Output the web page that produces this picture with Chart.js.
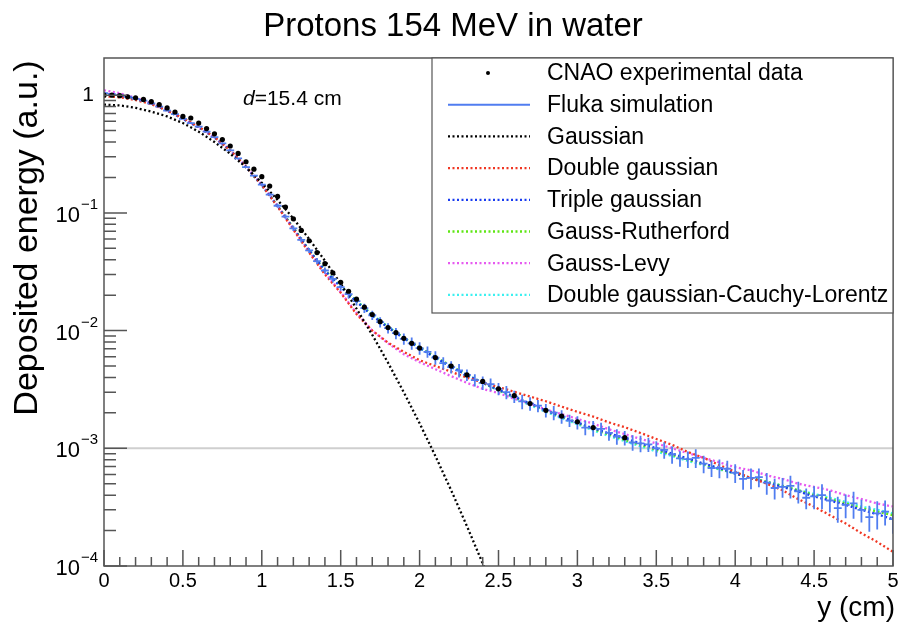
<!DOCTYPE html>
<html>
<head>
<meta charset="utf-8">
<title>Protons 154 MeV in water</title>
<script src="https://cdn.jsdelivr.net/npm/chart.js@4.4.1/dist/chart.umd.min.js"></script>
<style>
  html, body { margin: 0; padding: 0; background: #fff; }
  #wrap { width: 903px; height: 626px; }
</style>
</head>
<body>
<div id="wrap"><canvas id="chartCanvas" width="903" height="626"></canvas></div>
<script>
// ---- data ----
const seriesNames = ["CNAO experimental data", "Fluka simulation", "Gaussian", "Double gaussian",
  "Triple gaussian", "Gauss-Rutherford", "Gauss-Levy", "Double gaussian-Cauchy-Lorentz"];

// CNAO measurements
const cnaoX = [0, 0.05, 0.1, 0.15, 0.2, 0.25, 0.3, 0.35, 0.4, 0.45,
  0.5, 0.55, 0.6, 0.65, 0.7, 0.75, 0.8, 0.85, 0.9, 0.95,
  1.0, 1.05, 1.1, 1.15, 1.2, 1.25, 1.3, 1.35, 1.4, 1.45,
  1.5, 1.55, 1.6, 1.65, 1.7, 1.75, 1.8, 1.85, 1.9, 1.95,
  2.0, 2.1, 2.2, 2.3, 2.4, 2.5, 2.6, 2.7, 2.8, 2.9, 3.0, 3.1, 3.3];
const cnaoY = [1.00, 1.00, 0.99, 0.97, 0.95, 0.92, 0.88, 0.83, 0.78, 0.72,
  0.66, 0.64, 0.58, 0.52, 0.47, 0.42, 0.37, 0.32, 0.272, 0.235,
  0.203, 0.169, 0.138, 0.112, 0.089, 0.071, 0.058, 0.046, 0.037, 0.031,
  0.0257, 0.0216, 0.0185, 0.0158, 0.0137, 0.0119, 0.0106, 0.0096, 0.0086, 0.0078,
  0.0071, 0.0059, 0.0050, 0.0042, 0.0037, 0.0032, 0.0028, 0.0024, 0.0021, 0.00188, 0.00168, 0.00150,
  0.00123];

// Fluka histogram (bin centres, contents, relative errors)
const flukaX = [0, 0.05, 0.1, 0.15, 0.2, 0.25, 0.3, 0.35, 0.4, 0.45,
  0.5, 0.55, 0.6, 0.65, 0.7, 0.75, 0.8, 0.85, 0.9, 0.95,
  1.0, 1.05, 1.1, 1.15, 1.2, 1.25, 1.3, 1.35, 1.4, 1.45,
  1.5, 1.55, 1.6, 1.65, 1.7, 1.75, 1.8, 1.85, 1.9, 1.95,
  2.0, 2.05, 2.1, 2.15, 2.2, 2.25, 2.3, 2.35, 2.4, 2.45,
  2.5, 2.55, 2.6, 2.65, 2.7, 2.75, 2.8, 2.85, 2.9, 2.95,
  3.0, 3.05, 3.1, 3.15, 3.2, 3.25, 3.3, 3.35, 3.4, 3.45,
  3.5, 3.55, 3.6, 3.65, 3.7, 3.75, 3.8, 3.85, 3.9, 3.95,
  4.0, 4.05, 4.1, 4.15, 4.2, 4.25, 4.3, 4.35, 4.4, 4.45,
  4.5, 4.55, 4.6, 4.65, 4.7, 4.75, 4.8, 4.85, 4.9, 4.95, 5.0];
const flukaY = [1.04, 1.02, 1.00, 0.97, 0.93, 0.90, 0.85, 0.80, 0.74, 0.69,
  0.63, 0.58, 0.54, 0.49, 0.44, 0.39, 0.34, 0.29, 0.245, 0.207,
  0.174, 0.143, 0.115, 0.093, 0.074, 0.059, 0.048, 0.039, 0.0324, 0.0275,
  0.0234, 0.0204, 0.0178, 0.0155, 0.0135, 0.0118, 0.0105, 0.0095, 0.0085, 0.0078,
  0.0071, 0.0066, 0.0059, 0.0053, 0.0049, 0.0046, 0.0042, 0.0038, 0.0036, 0.0035,
  0.0032, 0.0030, 0.00275, 0.0025, 0.0024, 0.0023, 0.0021, 0.00201, 0.00186, 0.00172,
  0.00166, 0.00150, 0.00148, 0.00146, 0.00135, 0.00126, 0.00123, 0.00112, 0.00110, 0.00108,
  0.00100, 0.00097, 0.00089, 0.00082, 0.00081, 0.00083, 0.00074, 0.00068, 0.00068, 0.00067,
  0.00062, 0.00055, 0.00056, 0.00057, 0.00051, 0.00046, 0.00047, 0.00048, 0.00043, 0.00038,
  0.00039, 0.00040, 0.00036, 0.00031, 0.00033, 0.00034, 0.00030, 0.00026, 0.00028, 0.00029,
  0.00025];
const flukaErr = [0.015, 0.015, 0.015, 0.015, 0.015, 0.015, 0.015, 0.015, 0.015, 0.015,
  0.02, 0.02, 0.02, 0.02, 0.02, 0.02, 0.02, 0.02, 0.02, 0.02,
  0.03, 0.03, 0.04, 0.04, 0.05, 0.05, 0.05, 0.06, 0.06, 0.07,
  0.07, 0.08, 0.08, 0.09, 0.09, 0.10, 0.10, 0.11, 0.11, 0.12,
  0.12, 0.11, 0.13, 0.12, 0.12, 0.13, 0.11, 0.12, 0.13, 0.12,
  0.12, 0.13, 0.12, 0.14, 0.13, 0.12, 0.13, 0.14, 0.13, 0.12,
  0.13, 0.14, 0.15, 0.13, 0.14, 0.15, 0.14, 0.15, 0.16, 0.14,
  0.15, 0.16, 0.17, 0.15, 0.16, 0.18, 0.17, 0.16, 0.18, 0.17,
  0.18, 0.19, 0.20, 0.18, 0.21, 0.20, 0.19, 0.22, 0.21, 0.20,
  0.22, 0.24, 0.21, 0.25, 0.23, 0.26, 0.22, 0.25, 0.27, 0.24,
  0.25];
const flukaBinHalf = 0.025;

// single gaussian fit
const gaussX = [0, 0.1, 0.2, 0.3, 0.4, 0.5, 0.6, 0.7, 0.8, 0.9, 1.0, 1.1, 1.2,
  1.3, 1.4, 1.5, 1.6, 1.7, 1.8, 1.9, 2.0, 2.1, 2.2, 2.3, 2.4, 2.5];
const gaussY = [0.832, 0.819, 0.781, 0.725, 0.66, 0.58, 0.49, 0.40, 0.318, 0.244, 0.180, 0.129, 0.0895,
  0.0600, 0.0392, 0.0250, 0.0154, 0.0092, 0.00533, 0.00299, 0.00163, 0.00086, 0.00044, 0.000218, 0.000105, 0.000049];

// the other fits, sampled every 0.1 cm
const fitX = [0, 0.1, 0.2, 0.3, 0.4, 0.5, 0.6, 0.7, 0.8, 0.9,
  1.0, 1.1, 1.2, 1.3, 1.4, 1.5, 1.6, 1.7, 1.8, 1.9,
  2.0, 2.1, 2.2, 2.3, 2.4, 2.5, 2.6, 2.7, 2.8, 2.9,
  3.0, 3.1, 3.2, 3.3, 3.4, 3.5, 3.6, 3.7, 3.8, 3.9,
  4.0, 4.1, 4.2, 4.3, 4.4, 4.5, 4.6, 4.7, 4.8, 4.9, 5.0];
const doubleGaussY = [0.98, 0.96, 0.91, 0.84, 0.74, 0.64, 0.54, 0.44, 0.34, 0.247,
  0.172, 0.113, 0.072, 0.046, 0.030, 0.0210, 0.0138, 0.0100, 0.0079, 0.0066,
  0.0056, 0.0050, 0.00447, 0.00398, 0.00363, 0.00331, 0.00302, 0.00275, 0.00251, 0.00226,
  0.00204, 0.00186, 0.00166, 0.00151, 0.00135, 0.00120, 0.00107, 0.00093, 0.00083, 0.00072,
  0.00063, 0.00056, 0.00050, 0.00044, 0.00037, 0.00032, 0.00027, 0.00023, 0.00019, 0.00016, 0.000132];
const tripleGaussY = [1.03, 1.00, 0.93, 0.85, 0.74, 0.63, 0.535, 0.44, 0.34, 0.245,
  0.172, 0.114, 0.074, 0.048, 0.0324, 0.0234, 0.0176, 0.0134, 0.0106, 0.0086,
  0.0071, 0.0059, 0.0049, 0.0042, 0.0036, 0.00315, 0.00275, 0.0024, 0.0021, 0.00186,
  0.00165, 0.00148, 0.00134, 0.00122, 0.00110, 0.00100, 0.00090, 0.00082, 0.00074, 0.00068,
  0.00061, 0.00056, 0.00051, 0.00047, 0.00043, 0.00039, 0.00036, 0.00033, 0.00030, 0.000275, 0.00025];
const rutherfordY = [1.02, 0.99, 0.93, 0.85, 0.745, 0.635, 0.535, 0.44, 0.34, 0.247,
  0.173, 0.115, 0.075, 0.048, 0.0326, 0.0237, 0.0178, 0.0135, 0.0107, 0.0087,
  0.0072, 0.0060, 0.0050, 0.0042, 0.0036, 0.00312, 0.00272, 0.00238, 0.00209, 0.00185,
  0.00164, 0.00146, 0.00131, 0.00118, 0.00107, 0.00097, 0.00088, 0.00080, 0.00073, 0.00067,
  0.00061, 0.00056, 0.00052, 0.00048, 0.00044, 0.00040, 0.00037, 0.00034, 0.00031, 0.00029, 0.00027];
const levyY = [1.10, 1.04, 0.95, 0.85, 0.74, 0.63, 0.53, 0.435, 0.34, 0.248,
  0.174, 0.115, 0.073, 0.047, 0.031, 0.0212, 0.0141, 0.0100, 0.0078, 0.0063,
  0.0054, 0.0047, 0.0041, 0.0036, 0.0032, 0.00295, 0.00263, 0.0024, 0.00214, 0.00195,
  0.00178, 0.00162, 0.00145, 0.00132, 0.00120, 0.00110, 0.00100, 0.00091, 0.00083, 0.00076,
  0.00069, 0.00065, 0.00059, 0.00055, 0.00050, 0.00047, 0.00044, 0.00040, 0.00037, 0.00034, 0.00032];
const cauchyY = [1.03, 1.00, 0.935, 0.85, 0.74, 0.63, 0.535, 0.435, 0.338, 0.244,
  0.171, 0.114, 0.074, 0.048, 0.0325, 0.0238, 0.0180, 0.0137, 0.0108, 0.0087,
  0.0071, 0.0059, 0.0049, 0.0042, 0.0036, 0.00310, 0.00268, 0.00233, 0.00204, 0.00180,
  0.00160, 0.00142, 0.00127, 0.00115, 0.00104, 0.00094, 0.00086, 0.00078, 0.00072, 0.00066,
  0.00061, 0.00056, 0.00052, 0.00048, 0.00044, 0.00041, 0.00038, 0.00035, 0.00032, 0.00030, 0.00028];

// axes
const xTickValues = [0, 0.5, 1, 1.5, 2, 2.5, 3, 3.5, 4, 4.5, 5];
const xTickLabels = ["0", "0.5", "1", "1.5", "2", "2.5", "3", "3.5", "4", "4.5", "5"];
const yTickValues = [1, 0.1, 0.01, 0.001, 0.0001];
const yTickExps = ["", "\u22121", "\u22122", "\u22123", "\u22124"];
const yMin = 0.0001, yMax = 2.07;
const refLine = 0.001;

const FONT = "'Liberation Sans', Arial, Helvetica, sans-serif";

function pts(xs, ys) {
    return xs.map((x, i) => ({ x: x, y: ys[i] }));
}

function dotted(label, xs, ys, color) {
    return {
        label: label, data: pts(xs, ys), borderColor: color, backgroundColor: color,
        borderWidth: 2.3, borderDash: [2, 2.5], pointRadius: 0, showLine: true, fill: false
    };
}

// Fluka error bars, drawn right after the fluka dataset (so under the CNAO points)
const flukaBars = {
    id: "flukaBars",
    afterDatasetDraw(chart, args) {
        if (args.index !== 1) return;
        const { ctx, chartArea: a, scales: { x, y } } = chart;
        ctx.save();
        ctx.beginPath();
        ctx.rect(a.left, a.top, a.width, a.height);
        ctx.clip();
        ctx.strokeStyle = chart.data.datasets[1].borderColor;
        ctx.lineWidth = 1.8;
        flukaX.forEach((xv, i) => {
            const v = flukaY[i];
            const e = v * flukaErr[i];
            const px = x.getPixelForValue(xv);
            const py = y.getPixelForValue(v);
            ctx.beginPath();
            ctx.moveTo(px, y.getPixelForValue(v + e));
            ctx.lineTo(px, y.getPixelForValue(v - e));
            ctx.moveTo(x.getPixelForValue(xv - flukaBinHalf), py);
            ctx.lineTo(x.getPixelForValue(xv + flukaBinHalf), py);
            ctx.stroke();
        });
        ctx.restore();
    }
};

// ROOT-like frame, ticks, labels, legend and titles
const rootStyle = {
    id: "rootStyle",
    beforeDatasetsDraw(chart) {
        const { ctx, chartArea: a, scales: { y } } = chart;
        const py = y.getPixelForValue(refLine);
        ctx.save();
        ctx.strokeStyle = "#cfcfcf";
        ctx.lineWidth = 2;
        ctx.beginPath();
        ctx.moveTo(a.left, py);
        ctx.lineTo(a.right, py);
        ctx.stroke();
        ctx.restore();
    },
    afterDraw(chart) {
        const { ctx, chartArea: a, scales: { x, y } } = chart;
        ctx.save();

        // frame
        ctx.strokeStyle = "#555";
        ctx.lineWidth = 1.5;
        ctx.strokeRect(a.left, a.top, a.width, a.height);

        // x ticks (minor every 0.1)
        ctx.beginPath();
        for (let i = 0; i <= 50; i++) {
            const px = x.getPixelForValue(i / 10);
            const len = i % 5 === 0 ? 16 : 9;
            ctx.moveTo(px, a.bottom);
            ctx.lineTo(px, a.bottom - len);
        }
        // y ticks (decades + 2..9)
        yTickValues.forEach(v => {
            const py = y.getPixelForValue(v);
            ctx.moveTo(a.left, py);
            ctx.lineTo(a.left + 23, py);
            if (v < 1) {
                for (let m = 2; m <= 9; m++) {
                    const pm = y.getPixelForValue(v * m);
                    ctx.moveTo(a.left, pm);
                    ctx.lineTo(a.left + 12, pm);
                }
            }
        });
        ctx.stroke();

        // x labels
        ctx.fillStyle = "#000";
        ctx.font = "20px " + FONT;
        ctx.textAlign = "center";
        ctx.textBaseline = "middle";
        xTickValues.forEach((v, i) => {
            ctx.fillText(xTickLabels[i], x.getPixelForValue(v), a.bottom + 15);
        });

        // y labels: 10 with superscript exponent
        yTickValues.forEach((v, i) => {
            const py = y.getPixelForValue(v);
            if (yTickExps[i] === "") {
                ctx.font = "21px " + FONT;
                ctx.textAlign = "right";
                ctx.fillText("1", a.left - 10, py);
                return;
            }
            ctx.font = "15px " + FONT;
            ctx.textAlign = "right";
            const expW = ctx.measureText(yTickExps[i]).width;
            ctx.fillText(yTickExps[i], a.left - 6, py - 8);
            ctx.font = "22px " + FONT;
            ctx.fillText("10", a.left - 7 - expW, py + 3);
        });

        // title
        ctx.font = "33px " + FONT;
        ctx.textAlign = "center";
        ctx.fillText("Protons 154 MeV in water", 453, 27);

        // x title
        ctx.font = "28px " + FONT;
        ctx.textAlign = "right";
        ctx.fillText("y (cm)", a.right + 2, 608);

        // y title
        ctx.save();
        ctx.translate(28, 238);
        ctx.rotate(-Math.PI / 2);
        ctx.font = "34px " + FONT;
        ctx.textAlign = "center";
        ctx.fillText("Deposited energy (a.u.)", 0, 0);
        ctx.restore();

        // d = 15.4 cm
        ctx.textAlign = "left";
        ctx.font = "italic 21px " + FONT;
        ctx.fillText("d", 243, 99);
        const dW = ctx.measureText("d").width;
        ctx.font = "21px " + FONT;
        ctx.fillText("=15.4 cm", 243 + dW, 99);

        // legend
        const lx = 432, ly = a.top, lw = a.right - 432, lh = 255;
        ctx.fillStyle = "#fff";
        ctx.fillRect(lx, ly, lw, lh);
        ctx.strokeStyle = "#555";
        ctx.lineWidth = 1.2;
        ctx.strokeRect(lx, ly, lw, lh);
        ctx.font = "23px " + FONT;
        ctx.textAlign = "left";
        chart.data.datasets.forEach((ds, i) => {
            const cy = ly + 15 + i * 31.7;
            ctx.strokeStyle = ds.borderColor;
            ctx.fillStyle = ds.borderColor;
            if (i === 0) {
                ctx.beginPath();
                ctx.arc(488, cy, 2, 0, Math.PI * 2);
                ctx.fill();
            } else {
                ctx.lineWidth = ds.borderWidth;
                ctx.setLineDash(ds.borderDash || []);
                ctx.beginPath();
                ctx.moveTo(448, cy);
                ctx.lineTo(530, cy);
                ctx.stroke();
                ctx.setLineDash([]);
            }
            ctx.fillStyle = "#000";
            ctx.fillText(seriesNames[i], 547, cy + 1);
        });

        ctx.restore();
    }
};

const flukaColor = "rgb(80, 125, 240)";

const config = {
    type: "scatter",
    data: {
        datasets: [
            {
                label: seriesNames[0], data: pts(cnaoX, cnaoY), borderColor: "#000", backgroundColor: "#000",
                pointRadius: 2.6, pointBorderWidth: 0, showLine: false
            },
            {
                label: seriesNames[1], data: pts(flukaX, flukaY), borderColor: flukaColor, backgroundColor: flukaColor,
                borderWidth: 2, pointRadius: 0, showLine: false
            },
            dotted(seriesNames[2], gaussX, gaussY, "#000"),
            dotted(seriesNames[3], fitX, doubleGaussY, "rgb(240, 55, 35)"),
            dotted(seriesNames[4], fitX, tripleGaussY, "rgb(25, 60, 240)"),
            dotted(seriesNames[5], fitX, rutherfordY, "rgb(95, 230, 20)"),
            dotted(seriesNames[6], fitX, levyY, "rgb(230, 90, 240)"),
            dotted(seriesNames[7], fitX, cauchyY, "rgb(60, 240, 240)")
        ]
    },
    options: {
        responsive: false,
        animation: false,
        devicePixelRatio: 1,
        layout: { padding: { left: 104, right: 10, top: 58, bottom: 60 } },
        plugins: {
            legend: { display: false },
            title: { display: false },
            tooltip: { enabled: false }
        },
        scales: {
            x: { type: "linear", min: 0, max: 5, display: false },
            y: { type: "logarithmic", min: yMin, max: yMax, display: false }
        }
    },
    plugins: [flukaBars, rootStyle]
};

new Chart(document.getElementById("chartCanvas"), config);
</script>
</body>
</html>
